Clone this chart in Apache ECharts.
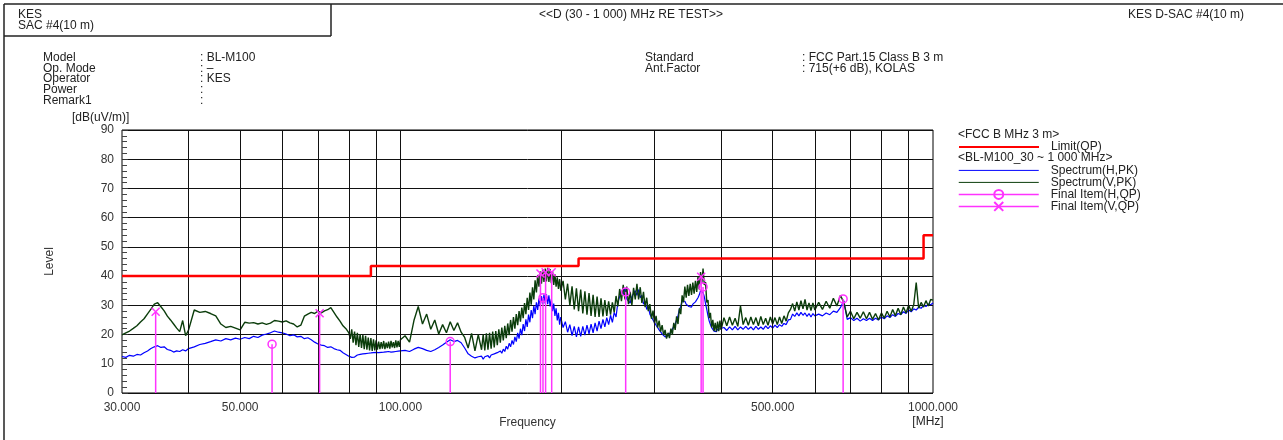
<!DOCTYPE html>
<html><head><meta charset="utf-8">
<script src="https://cdn.jsdelivr.net/npm/echarts@6/dist/echarts.min.js"></script>
<style>html,body{margin:0;padding:0;background:#fff}#c{width:1283px;height:440px}</style>
</head><body><div id="c"></div>
<script>
// ---------- data (MHz / dB(uV/m)) ----------
const freqs = [
30,30.5,31,31.5,32,32.5,33,33.5,34,34.5,35,35.5,36,36.5,37,37.5,38,38.5,39,39.5,40,
41,42,43,44,45,46,47,48,49,50,51,52,53,54,55,56,57,58,59,60,61,62,63,64,65,66,67,68,69,70,71,72,73,74,75,76,77,78,79,80,
80.5,81,81.5,82,82.5,83,83.5,84,84.5,85,85.5,86,86.5,87,87.5,88,88.5,89,89.5,90,90.5,91,91.5,92,92.5,93,93.5,94,94.5,95,95.5,96,96.5,97,97.5,98,98.5,99,99.5,100,
102,104,106,108,110,112,114,116,118,120,122,124,126,128,130,132,134,136,138,140,
141,142,143,144,145,146,147,148,149,150,151,152,153,154,155,156,157,158,159,160,161,162,163,164,165,166,167,168,169,170,
171,172,173,174,175,176,177,178,179,180,181,182,183,184,185,186,187,188,189,190,191,192,193,194,195,196,197,198,199,200,
202,204,206,208,210,212,214,216,218,220,222,224,226,228,230,232,234,236,238,240,242,244,246,248,250,252,254,256,258,260,
262,264,266,268,270,272,274,276,278,280,282,284,286,288,290,292,294,296,298,300,302,304,306,308,310,312,314,316,318,320,
322,324,326,328,330,332,334,336,338,340,342,344,346,348,350,352,354,356,358,360,362,364,366,368,370,372,374,376,378,380,
382,384,386,388,390,392,394,396,398,400,
405,410,415,420,425,430,435,440,445,450,455,460,465,470,475,480,485,490,495,500,
505,510,515,520,525,530,535,540,545,550,555,560,565,570,575,580,585,590,595,600,
610,620,630,640,650,660,670,680,690,700,710,720,730,740,750,760,770,780,790,800,
810,820,830,840,850,860,870,880,890,900,910,920,930,940,950,960,970,980,990,1000
];
const levelH = [
12.5,12.2,12.9,12.6,13.2,13.0,13.8,14.4,15.2,15.8,16.2,15.6,15.8,14.9,14.6,14.0,14.4,14.2,14.8,14.4,15.2,
15.8,16.6,17.0,17.6,18.2,17.8,18.6,18.2,18.8,18.4,19.0,18.6,19.4,19.0,19.8,20.2,20.6,21.2,20.8,20.6,
20.2,19.6,19.9,19.2,19.4,18.6,18.9,18.2,17.4,16.8,16.4,16.2,15.6,15.8,15.2,14.8,14.6,13.8,13.2,12.6,
12.4,12.2,12.6,12.3,12.8,13.0,13.4,13.2,13.6,13.4,13.8,13.5,13.9,13.6,14.0,13.7,14.1,13.8,14.2,13.9,
14.2,13.8,14.3,13.9,14.4,14.0,14.5,14.1,14.6,14.2,14.6,14.0,14.5,14.1,14.6,14.2,14.7,14.3,14.8,14.4,
14.6,14.2,15.0,15.6,15.2,14.6,14.2,14.8,15.6,16.4,17.4,18.2,17.6,18.0,17.2,15.4,13.4,12.6,12.0,12.4,
11.8,12.6,11.6,12.4,11.8,12.8,12.0,13.0,12.4,13.4,12.8,13.8,13.2,14.4,13.6,15.0,14.2,16.0,15.0,17.0,
15.8,18.0,16.6,19.2,17.6,20.6,18.6,22.0,19.8,23.6,21.2,25.2,22.6,26.8,24.2,28.4,25.6,29.8,27.0,31.0,
28.4,32.4,29.6,33.2,30.4,33.8,30.6,33.8,30.4,33.4,29.6,32.2,28.0,30.6,26.4,29.0,24.8,27.4,23.4,26.0,
22.4,24.4,20.8,23.4,19.6,22.8,19.2,22.6,19.4,22.8,19.8,23.2,20.2,23.6,20.6,24.0,21.2,24.6,22.0,25.2,
22.6,25.8,23.4,26.6,24.2,27.6,26.0,31.0,30.6,35.0,33.6,36.0,32.2,32.6,30.8,33.0,32.4,35.0,33.4,35.4,
32.6,33.4,30.4,31.4,28.6,29.6,27.0,27.6,25.0,25.4,23.2,23.6,21.6,22.0,20.2,20.4,19.2,19.0,19.6,19.6,
20.8,21.4,22.8,23.6,25.0,26.4,28.6,29.6,31.4,32.0,31.4,30.4,30.0,29.6,30.2,29.4,30.4,30.0,31.2,31.6,
32.6,33.6,35.0,35.6,34.4,33.0,30.6,28.6,26.4,24.6,23.4,22.4,21.8,21.2,21.6,21.0,21.8,21.4,22.0,21.6,
22.4,21.4,22.6,21.6,22.8,21.6,22.6,21.8,22.8,21.8,22.6,21.6,22.8,21.8,22.6,21.8,23.0,22.0,23.0,22.2,
23.2,22.4,23.4,22.8,23.8,23.4,25.0,25.2,27.0,26.2,27.4,26.4,27.6,26.6,27.4,26.2,27.2,26.0,27.2,26.4,
27.0,26.4,27.4,26.8,28.0,27.6,29.2,31.6,25.2,25.8,24.8,25.6,24.6,25.4,24.8,25.6,24.8,25.6,25.0,26.0,
25.4,26.4,25.8,26.8,26.2,27.2,26.8,27.8,27.2,28.4,27.8,28.8,28.4,29.4,29.0,30.0,29.6,30.4,30.2,30.8
];
const levelV = [
19.9,20.6,21.2,22.1,23.0,24.3,25.4,27.1,28.7,30.4,30.9,29.5,28.1,26.3,25.0,23.6,22.2,21.0,24.8,19.6,21.5,
28.4,27.6,27.9,27.2,26.4,23.6,22.4,22.8,22.2,21.6,24.2,23.9,24.1,23.6,24.0,23.5,23.9,24.8,24.6,24.3,
24.7,24.0,23.6,22.6,23.2,26.3,27.0,27.6,27.2,28.0,27.4,28.1,28.5,29.2,27.6,26.0,24.6,23.0,22.0,20.6,
18.5,21.8,17.2,21.0,16.4,20.6,15.8,20.2,15.4,19.8,15.0,19.6,14.8,19.0,14.6,18.8,14.4,18.4,14.6,18.0,
14.8,17.6,15.0,17.4,15.2,17.8,15.0,17.2,15.4,17.6,15.2,17.8,15.6,17.4,15.4,18.0,15.6,17.8,15.8,18.2,
19.6,17.4,24.8,29.6,23.6,27.0,21.8,25.0,20.2,23.4,20.6,24.4,21.4,24.0,20.8,19.0,15.4,20.4,14.4,20.0,
20.2,14.8,20.0,14.6,20.4,14.8,20.6,15.2,21.0,15.6,21.2,16.4,21.8,17.2,22.4,18.0,23.0,18.8,23.8,19.8,
25.0,21.0,26.0,22.0,27.0,23.2,28.0,24.4,29.2,25.6,30.8,27.0,32.6,28.4,34.4,30.2,36.2,32.0,38.6,34.4,
40.4,36.4,41.6,37.4,42.4,38.0,42.6,38.2,42.8,38.0,42.4,37.6,41.6,37.0,40.6,36.4,39.6,35.6,39.0,35.0,
38.4,32.0,37.4,30.0,36.5,28.6,35.8,28.0,35.4,27.2,34.8,26.8,34.2,26.4,33.6,26.0,33.0,26.0,32.4,26.2,
31.8,26.4,31.4,26.8,31.0,27.6,33.2,29.6,35.6,31.4,37.0,32.0,36.4,30.4,34.6,30.0,36.0,32.0,37.4,32.0,
36.2,30.8,34.6,29.4,32.6,28.0,30.4,25.4,28.2,23.8,26.4,22.4,24.8,21.0,23.2,19.8,21.6,18.6,20.6,18.8,
22.0,20.0,24.0,21.6,26.2,23.6,29.0,27.0,33.4,31.0,36.4,32.6,37.0,33.2,37.4,33.6,37.8,34.0,38.4,34.6,
39.8,35.4,41.4,37.6,42.6,37.0,38.0,31.0,31.8,25.6,27.4,22.4,25.0,21.2,24.0,21.0,24.4,21.2,24.8,21.6,
25.8,23.0,26.0,23.2,25.6,22.8,29.8,23.4,25.8,23.2,26.0,23.4,25.8,23.0,26.2,23.4,25.6,23.2,26.0,23.6,
25.8,23.4,26.0,23.8,26.4,24.6,27.4,28.6,30.6,28.0,31.2,28.4,31.6,28.8,32.0,28.4,30.8,28.2,30.8,28.4,
31.0,28.6,31.4,29.0,32.4,29.8,33.4,31.0,26.0,28.0,25.4,27.6,25.6,27.8,25.4,27.6,25.2,27.2,25.0,27.4,
25.6,28.0,26.0,28.6,26.4,29.0,26.8,29.4,27.4,30.0,28.0,30.2,37.8,29.0,31.0,29.4,31.6,29.8,32.0,31.8
];
const limitFreq  = [30, 88, 88, 216, 216, 960, 960, 1000];
const limitLevel = [40, 40, 43.5, 43.5, 46, 46, 54, 54];
const qpHFreq  = [57.4, 124.0, 185.2, 264.8, 370.0, 678.0];
const qpHLevel = [16.7, 17.6, 32.6, 34.6, 36.3, 32.2];
const qpVFreq  = [34.7, 70.5, 183.2, 187.3, 192.3, 367.0];
const qpVLevel = [27.8, 27.3, 40.9, 41.3, 41.3, 39.8];
const gridFreqs = [40, 50, 60, 70, 80, 90, 100, 200, 300, 400, 500, 600, 700, 800, 900];
const xLabelFreqs = [30, 50, 100, 500, 1000];
const infoLeftLabels  = ['Model', 'Op. Mode', 'Operator', 'Power', 'Remark1'];
const infoLeftValues  = [': BL-M100', ': \u2013', ': KES', ':', ':'];
const infoRightLabels = ['Standard', 'Ant.Factor'];
const infoRightValues = [': FCC Part.15 Class B 3 m', ': 715(+6 dB), KOLAS'];

// ---------- chart ----------
const FONT = '"Liberation Sans", Arial, sans-serif';
const MAG = '#ff33ff';
const BLUE = '#0000ff';
const GREEN = '#0b3d0b';
const pair = (xs, ys) => xs.map((x, i) => [x, ys[i]]);
const T = (text, x, y, extra) => ({type: 'text', x: x, y: y, silent: true,
  style: Object.assign({text: text, font: '12px ' + FONT, fill: '#222', verticalAlign: 'middle', align: 'left'}, extra || {})});
const L = (x1, y1, x2, y2) => ({type: 'line', silent: true, shape: {x1, y1, x2, y2}, style: {stroke: '#222', lineWidth: 1.5}});

const graphic = [
  L(4, 4, 1283, 4), L(4, 4, 4, 440), L(331, 4, 331, 36), L(4, 36, 331, 36),
  T('KES', 18, 15), T('SAC #4(10 m)', 18, 26),
  T('<<D (30 - 1 000) MHz RE TEST>>', 631, 15, {align: 'center'}),
  T('KES D-SAC #4(10 m)', 1128, 15),
  T('[dB(uV/m)]', 72, 118),
  T('[MHz]', 928, 422, {align: 'center'}),
  T('<FCC B MHz 3 m>', 958, 135),
  T('<BL-M100_30 ~ 1 000 MHz>', 958, 158)
];
infoLeftLabels.forEach((s, i) => { graphic.push(T(s, 43, 57.3 + 10.93 * i)); graphic.push(T(infoLeftValues[i], 200, 57.3 + 10.93 * i)); });
infoRightLabels.forEach((s, i) => { graphic.push(T(s, 645, 57.3 + 10.93 * i)); graphic.push(T(infoRightValues[i], 802, 57.3 + 10.93 * i)); });

const stems = pair(qpHFreq, qpHLevel).concat(pair(qpVFreq, qpVLevel));
const legendText = {fontSize: 12, color: '#222', fontFamily: FONT, lineHeight: 11, padding: [0, 0, 0, 7]};
const qpItem = {color: 'rgba(0,0,0,0)', borderColor: MAG, borderWidth: 1.5};
const noSym = {opacity: 0};

const chart = echarts.init(document.getElementById('c'), null, {renderer: 'canvas'});
chart.setOption({
  animation: false,
  textStyle: {fontFamily: FONT},
  grid: {left: 122, top: 130, width: 811, height: 263, show: true, borderColor: '#000', borderWidth: 1, backgroundColor: 'transparent'},
  xAxis: {
    type: 'log', logBase: 10, min: 30, max: 1000,
    axisLine: {show: false}, axisTick: {show: false}, axisLabel: {show: false},
    splitLine: {show: false}, minorSplitLine: {show: false},
    name: 'Frequency', nameLocation: 'middle', nameGap: 24,
    nameTextStyle: {fontSize: 12, color: '#333', fontFamily: FONT}
  },
  yAxis: {
    type: 'value', min: 0, max: 90, interval: 10,
    axisLine: {show: false},
    axisTick: {show: true, inside: true, length: 6, lineStyle: {color: '#333'}},
    minorTick: {show: true, splitNumber: 5, length: 5, lineStyle: {color: '#444'}},
    axisLabel: {fontSize: 12, color: '#333', margin: 8, fontFamily: FONT},
    splitLine: {show: true, lineStyle: {color: '#111', width: 1}},
    name: 'Level', nameLocation: 'middle', nameGap: 66,
    nameTextStyle: {fontSize: 12, color: '#333', fontFamily: FONT}
  },
  legend: [
    {left: 958, top: 141, padding: 0, orient: 'vertical', itemWidth: 80, itemHeight: 11, itemGap: 0, selectedMode: false,
     textStyle: legendText, data: [{name: 'Limit(QP)', itemStyle: noSym}]},
    {left: 958, top: 164.4, padding: 0, orient: 'vertical', itemWidth: 80, itemHeight: 11.2, itemGap: 0, selectedMode: false,
     textStyle: legendText,
     data: [{name: 'Spectrum(H,PK)', itemStyle: noSym, lineStyle: {width: 1}}, {name: 'Spectrum(V,PK)', itemStyle: noSym, lineStyle: {width: 1}},
       {name: 'Final Item(H,QP)', lineStyle: {opacity: 1, width: 1.5, color: MAG}},
       {name: 'Final Item(V,QP)', lineStyle: {opacity: 1, width: 1.5, color: MAG}}]}
  ],
  graphic: graphic,
  series: [
    {type: 'line', name: '_grid', data: [], silent: true, z: 1,
     markLine: {silent: true, symbol: 'none', animation: false, label: {show: false},
       lineStyle: {color: '#111', width: 1, type: 'solid'},
       data: gridFreqs.map(f => ({xAxis: f}))}},
    {type: 'line', name: '_xlabels', data: [], silent: true, z: 1,
     markLine: {silent: true, symbol: 'none', animation: false,
       lineStyle: {color: 'rgba(0,0,0,0)', width: 0},
       label: {show: true, position: 'start', distance: 9, color: '#333', fontSize: 12, fontFamily: FONT,
         formatter: p => Number(p.value).toFixed(3)},
       data: xLabelFreqs.map(f => ({xAxis: f}))}},
    {type: 'line', name: 'Spectrum(H,PK)', data: pair(freqs, levelH), symbol: 'none', showSymbol: false,
     lineStyle: {color: BLUE, width: 1.2}, itemStyle: {color: BLUE}, z: 3},
    {type: 'line', name: 'Spectrum(V,PK)', data: pair(freqs, levelV), symbol: 'none', showSymbol: false,
     lineStyle: {color: GREEN, width: 1.4}, itemStyle: {color: GREEN}, z: 4},
    {type: 'line', name: 'Limit(QP)', data: pair(limitFreq, limitLevel), symbol: 'none', showSymbol: false,
     lineStyle: {color: '#ff0000', width: 2.5}, itemStyle: {color: '#ff0000'}, z: 5},
    {type: 'custom', name: '_stems', data: stems, silent: true, z: 6, encode: {x: 0, y: 1},
     renderItem: (params, api) => {
       const a = api.coord([api.value(0), 0]);
       const b = api.coord([api.value(0), api.value(1)]);
       return {type: 'line', shape: {x1: a[0], y1: a[1], x2: b[0], y2: b[1]}, style: {stroke: MAG, lineWidth: 1.5}};
     }},
    {type: 'line', name: 'Final Item(H,QP)', data: pair(qpHFreq, qpHLevel), symbol: 'circle', symbolSize: 8,
     showSymbol: true, lineStyle: {opacity: 0, width: 0}, itemStyle: qpItem, z: 7},
    {type: 'line', name: 'Final Item(V,QP)', data: pair(qpVFreq, qpVLevel), symbol: 'path://M0,0L10,10M10,0L0,10', symbolSize: 8,
     showSymbol: true, lineStyle: {opacity: 0, width: 0}, itemStyle: qpItem, z: 7}
  ]
});
</script></body></html>
